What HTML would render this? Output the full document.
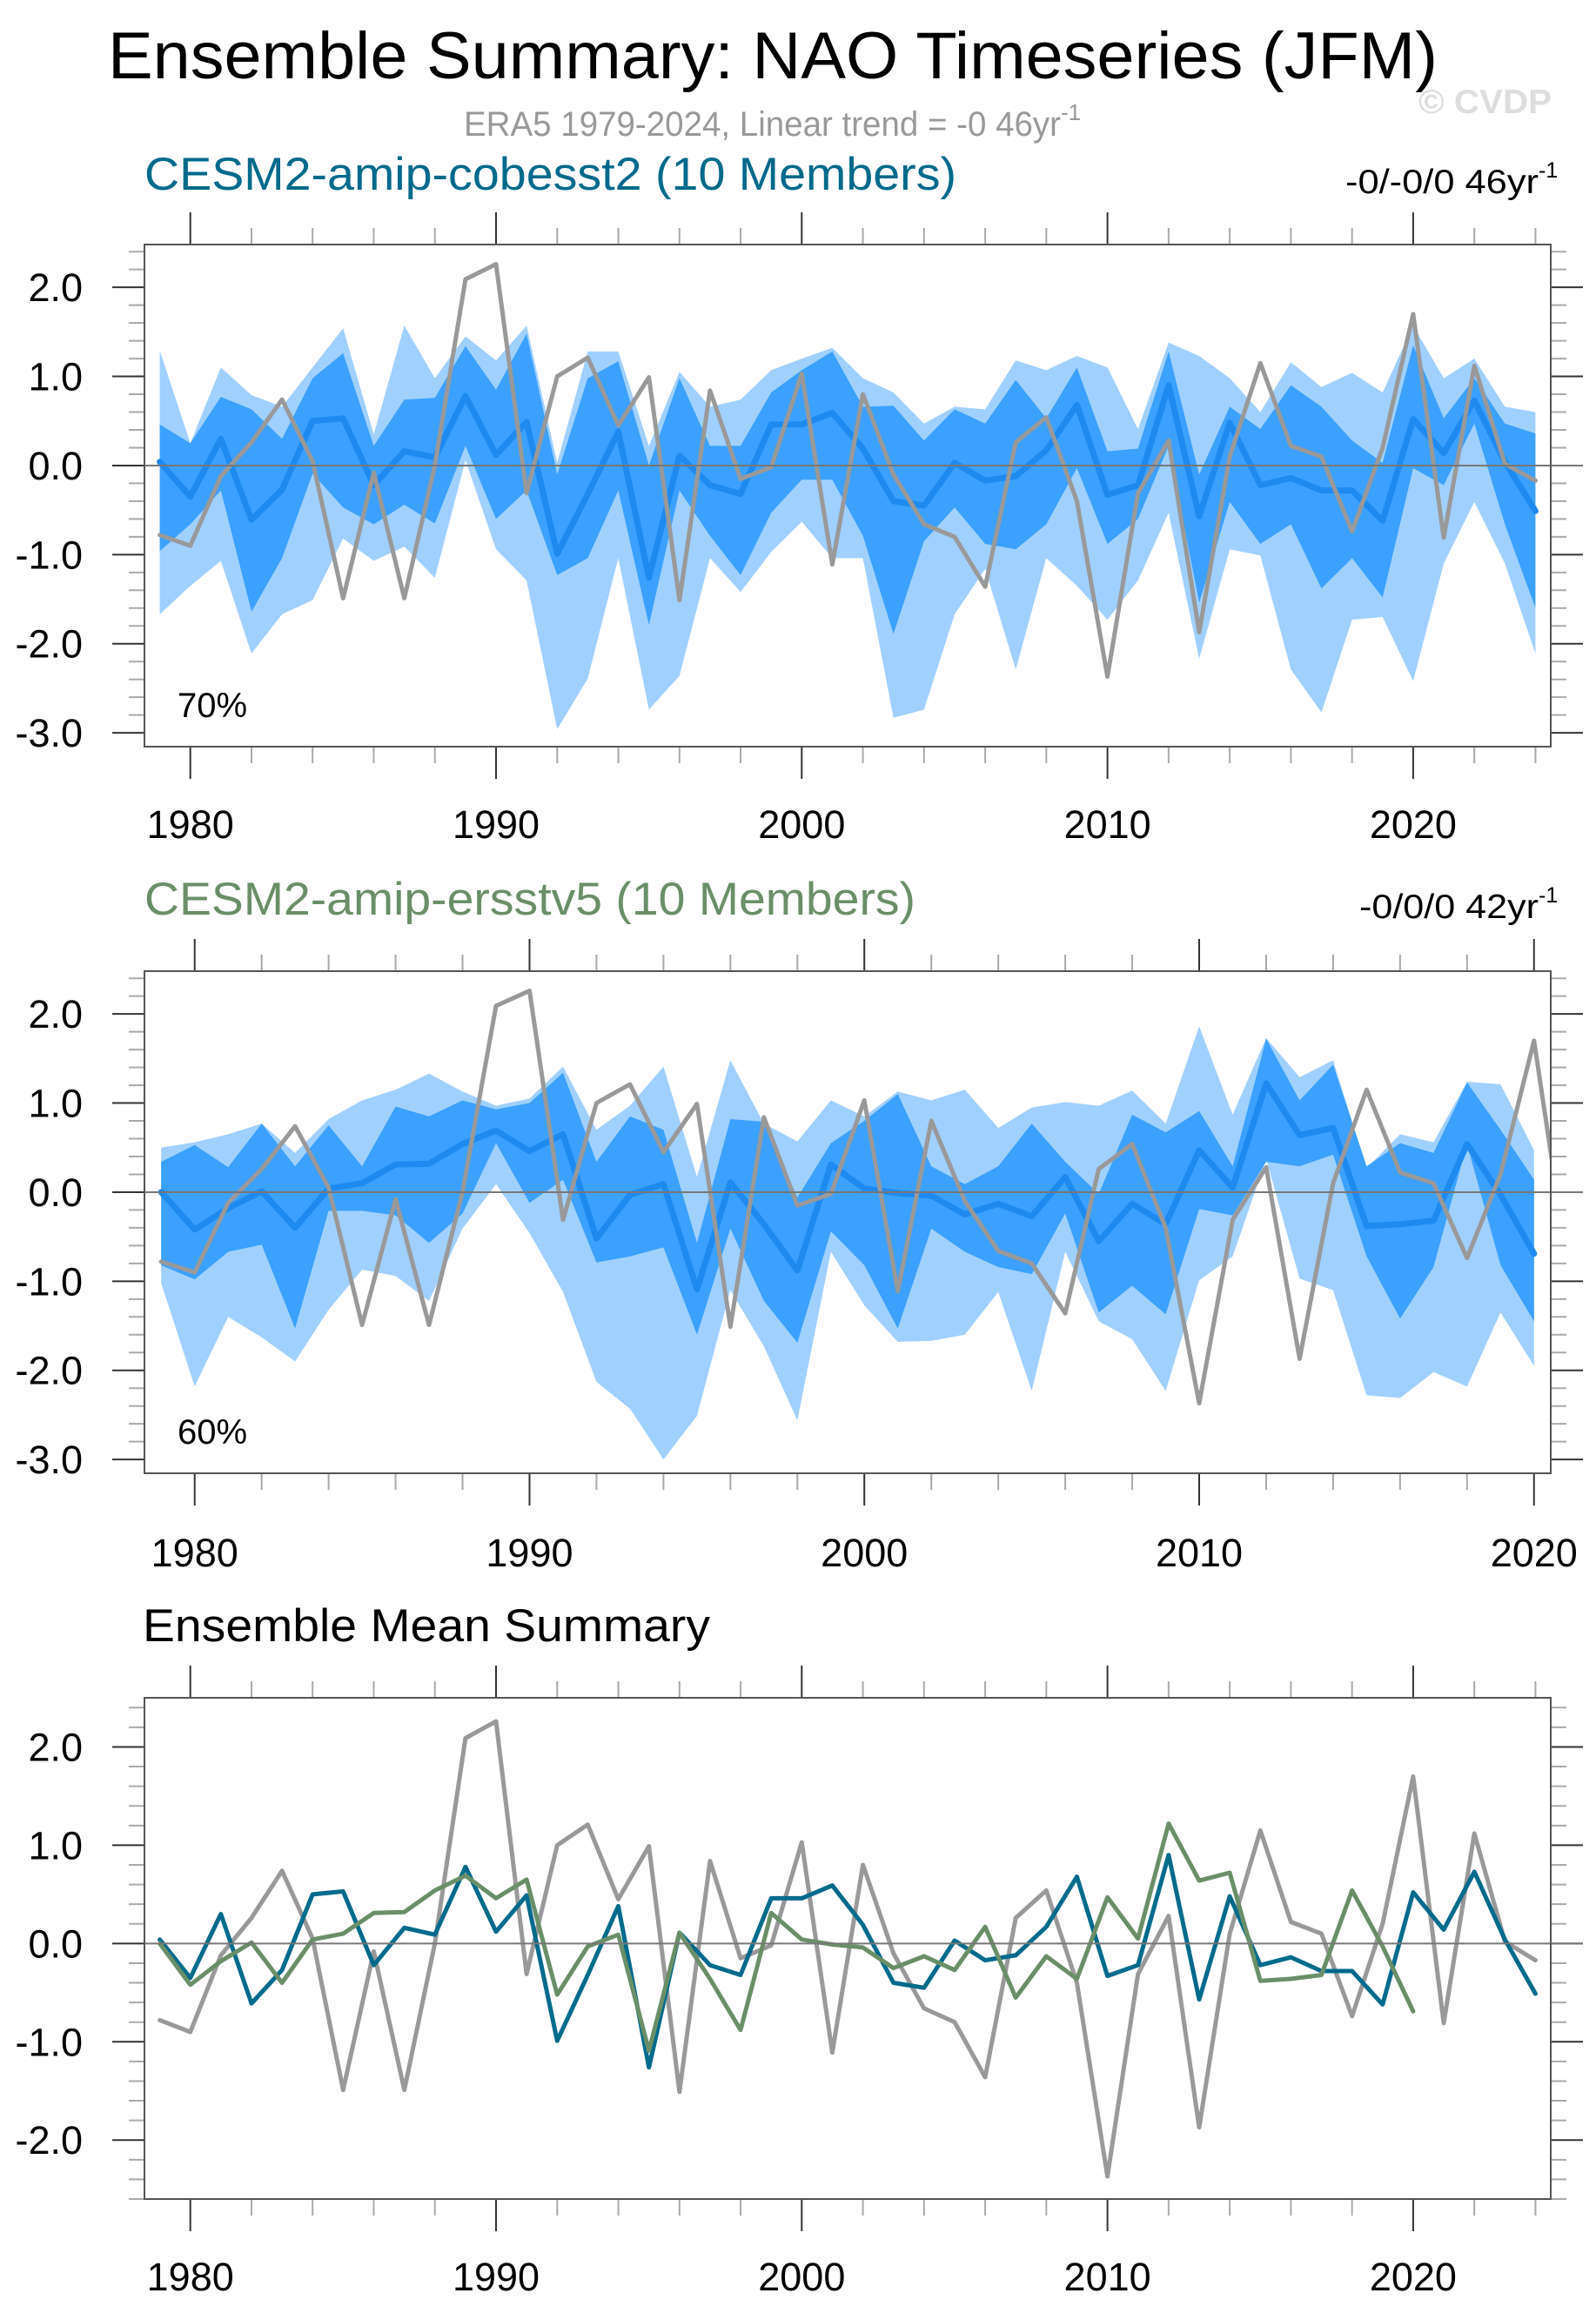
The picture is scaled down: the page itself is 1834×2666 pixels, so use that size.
<!DOCTYPE html>
<html><head><meta charset="utf-8"><title>NAO Timeseries</title>
<style>html,body{margin:0;padding:0;background:#fff}svg{display:block}text{font-family:"Liberation Sans",Arial,sans-serif}</style>
</head><body>
<svg id="chart" width="1834" height="2666" viewBox="0 0 1834 2666" xmlns="http://www.w3.org/2000/svg">
<text x="888" y="90" font-size="76" text-anchor="middle" textLength="1528" lengthAdjust="spacingAndGlyphs" fill="#000">Ensemble Summary: NAO Timeseries (JFM)</text>
<text x="1630" y="130" font-size="39" font-weight="bold" fill="#dddddd" textLength="153" lengthAdjust="spacingAndGlyphs">© CVDP</text>
<text x="533" y="156" font-size="40" fill="#999999"><tspan textLength="686" lengthAdjust="spacingAndGlyphs">ERA5 1979-2024, Linear trend = -0 46yr</tspan><tspan dy="-18" font-size="26">-1</tspan></text>
<text x="166" y="218" font-size="53" fill="#00698a" textLength="933" lengthAdjust="spacingAndGlyphs">CESM2-amip-cobesst2 (10 Members)</text>
<text x="1546" y="222" font-size="39" fill="#000"><tspan textLength="222" lengthAdjust="spacingAndGlyphs">-0/-0/0 46yr</tspan><tspan dy="-18" font-size="25">-1</tspan></text>
<text x="166" y="1051" font-size="53" fill="#6a8f68" textLength="886" lengthAdjust="spacingAndGlyphs">CESM2-amip-ersstv5 (10 Members)</text>
<text x="1562" y="1055" font-size="39" fill="#000"><tspan textLength="206" lengthAdjust="spacingAndGlyphs">-0/0/0 42yr</tspan><tspan dy="-18" font-size="25">-1</tspan></text>
<text x="164" y="1886" font-size="53" fill="#000" textLength="652" lengthAdjust="spacingAndGlyphs">Ensemble Mean Summary</text>
<g id="plots"></g>
</svg>
<script>
const yearsA = [1979,1980,1981,1982,1983,1984,1985,1986,1987,1988,1989,1990,1991,1992,1993,1994,1995,1996,1997,1998,1999,2000,2001,2002,2003,2004,2005,2006,2007,2008,2009,2010,2011,2012,2013,2014,2015,2016,2017,2018,2019,2020,2021,2022,2023,2024];
const yearsB = yearsA.slice(0,42);
const era5 = [-0.78,-0.90,-0.12,0.26,0.74,0.05,-1.49,-0.08,-1.49,0.0,2.09,2.26,-0.31,1.0,1.21,0.45,0.99,-1.51,0.84,-0.15,-0.02,1.03,-1.11,0.80,-0.10,-0.66,-0.80,-1.36,0.26,0.54,-0.40,-2.37,-0.31,0.28,-1.87,0.10,1.15,0.22,0.10,-0.74,0.20,1.70,-0.81,1.12,0.02,-0.17];
const meanA = [0.04,-0.35,0.30,-0.61,-0.27,0.50,0.53,-0.22,0.16,0.09,0.78,0.12,0.49,-0.99,-0.32,0.38,-1.26,0.11,-0.22,-0.32,0.46,0.46,0.59,0.19,-0.40,-0.45,0.03,-0.17,-0.12,0.17,0.68,-0.33,-0.22,0.90,-0.57,0.48,-0.22,-0.14,-0.28,-0.28,-0.62,0.52,0.14,0.73,0.04,-0.51];
const darkHiA = [0.46,0.25,0.77,0.63,0.30,0.98,1.26,0.22,0.74,0.76,1.34,0.85,1.48,-0.10,0.98,1.17,0.0,0.98,0.22,0.22,0.82,1.07,1.28,0.66,0.67,0.28,0.63,0.47,0.96,0.53,1.10,0.16,0.19,1.28,-0.10,0.66,0.41,0.90,0.66,0.28,0.03,1.35,0.53,0.98,0.47,0.36];
const darkLoA = [-0.96,-0.66,-0.28,-1.64,-1.04,-0.09,-0.47,-0.66,-0.44,-0.65,0.22,-0.60,-0.28,-1.23,-1.04,-0.28,-1.79,-0.28,-0.79,-1.23,-0.53,-0.16,-0.16,-0.79,-1.89,-0.85,-0.47,-0.88,-0.94,-0.66,-0.03,-0.88,-0.60,0.22,-1.54,-0.41,-0.88,-0.66,-1.38,-1.04,-1.48,-0.03,-0.22,0.47,-0.66,-1.60];
const lightHiA = [1.29,0.25,1.10,0.79,0.66,1.10,1.54,0.35,1.57,0.98,1.45,1.18,1.57,0.03,1.28,1.28,0.22,1.05,0.66,0.74,1.07,1.20,1.32,0.98,0.82,0.47,0.66,0.63,1.18,1.07,1.23,1.10,0.41,1.38,1.23,0.98,0.60,1.16,0.88,1.04,0.82,1.57,0.98,1.20,0.66,0.60];
const lightLoA = [-1.67,-1.35,-1.07,-2.11,-1.67,-1.51,-0.82,-1.07,-0.91,-1.26,0.06,-0.94,-1.29,-2.96,-2.39,-1.04,-2.74,-2.36,-1.04,-1.42,-0.97,-0.63,-1.04,-1.04,-2.83,-2.74,-1.67,-1.16,-2.29,-1.04,-1.35,-1.73,-1.29,-0.53,-2.17,-0.94,-1.01,-2.29,-2.77,-1.73,-1.70,-2.42,-1.10,-0.41,-1.10,-2.11];
const meanB = [0.0,-0.42,-0.18,0.01,-0.40,0.04,0.10,0.31,0.32,0.54,0.69,0.46,0.65,-0.52,-0.03,0.09,-1.09,0.11,-0.36,-0.88,0.31,0.04,-0.01,-0.04,-0.25,-0.13,-0.27,0.17,-0.55,-0.13,-0.36,0.47,0.05,1.22,0.64,0.72,-0.38,-0.36,-0.32,0.54,-0.03,-0.69];
const lightHiB = [0.50,0.56,0.65,0.77,0.44,0.82,1.03,1.15,1.33,1.13,0.97,1.05,1.41,0.70,0.97,1.41,0.17,1.48,0.77,0.57,1.03,0.85,1.13,1.03,1.15,0.72,0.95,1.01,0.97,1.14,0.77,1.86,0.87,1.73,1.29,1.48,0.27,0.65,0.56,1.24,1.21,0.47];
const darkHiB = [0.34,0.53,0.28,0.77,0.29,0.75,0.29,0.96,0.85,1.03,0.93,1.00,1.34,0.34,0.85,0.70,-0.57,0.82,0.79,-0.06,0.55,0.80,1.10,0.29,0.09,0.29,0.77,0.34,-0.02,0.87,0.67,0.91,0.29,1.72,1.03,1.43,0.29,0.55,0.44,1.23,0.70,0.14];
const darkLoB = [-0.82,-0.98,-0.67,-0.59,-1.53,-0.21,-0.21,-0.26,-0.57,-0.24,0.55,-0.12,0.14,-0.79,-0.72,-0.62,-1.60,-0.41,-1.22,-1.69,-0.44,-0.82,-1.53,-0.41,-0.67,-0.84,-0.92,-0.24,-1.35,-1.05,-1.37,-0.19,-0.26,0.34,0.29,0.42,-0.72,-1.42,-0.84,0.54,-0.82,-1.45];
const lightLoB = [-1.02,-2.18,-1.40,-1.63,-1.90,-1.32,-0.87,-0.94,-1.22,-0.41,0.09,-0.46,-1.12,-2.13,-2.43,-3.00,-2.51,-1.10,-1.73,-2.56,-0.67,-1.27,-1.68,-1.67,-1.60,-1.12,-2.23,-0.67,-1.45,-1.65,-2.23,-0.99,-0.72,0.37,-0.97,-1.10,-2.28,-2.31,-2.02,-2.18,-1.35,-1.95];
const yTicksAB = [2.0,1.0,0.0,-1.0,-2.0,-3.0];
const yTickLabelsAB = ["2.0","1.0","0.0","-1.0","-2.0","-3.0"];
const yTicksC = [2.0,1.0,0.0,-1.0,-2.0];
const yTickLabelsC = ["2.0","1.0","0.0","-1.0","-2.0"];
const xTickYears = [1980,1990,2000,2010,2020];

const NS='http://www.w3.org/2000/svg';
const root=document.getElementById('plots');
function mk(tag,attrs,parent){const e=document.createElementNS(NS,tag);for(const k in attrs)e.setAttribute(k,attrs[k]);(parent||root).appendChild(e);return e;}

function panel(id,top,bottom,xmin,xmax,ymin,ymax,yT,yL,labBase){
  const L=166,R=1782;
  const g=mk('g',{});
  
  
  const X=v=>L+(v-xmin)/(xmax-xmin)*(R-L);
  const Y=v=>bottom-(v-ymin)/(ymax-ymin)*(bottom-top);
  const cp=mk('clipPath',{id:id+'-clip'},g);
  mk('rect',{x:L,y:top,width:R-L,height:bottom-top},cp);
  const plot=mk('g',{'clip-path':'url(#'+id+'-clip)'},g);
  
  
  // x ticks
  for(let yr=1980;yr<=xmax;yr+=2){
    const major=(yr%10===0), x=X(yr);
    const t1=mk('line',{x1:x,x2:x,y1:top-(major?37:19),y2:top,stroke:major?'#333':'#aaa','stroke-width':2},g);
    
    
    const t2=mk('line',{x1:x,x2:x,y1:bottom,y2:bottom+(major?37:19),stroke:major?'#333':'#aaa','stroke-width':2},g);
    
    
  }
  xTickYears.forEach(yr=>{
    const t=mk('text',{x:X(yr),y:labBase,'font-size':45,'text-anchor':'middle',fill:'#000'},g);
    t.textContent=String(yr);
    
    
  });
  // y ticks
  for(let k=Math.ceil(ymin*5);k<=Math.floor(ymax*5);k++){
    const v=k/5, y=Y(v), major=(k%5===0);
    const a=mk('line',{x1:L-(major?37:18),x2:L,y1:y,y2:y,stroke:major?'#333':'#aaa','stroke-width':2},g);
    
    
    const b=mk('line',{x1:R,x2:R+(major?37:18),y1:y,y2:y,stroke:major?'#333':'#aaa','stroke-width':2},g);
    
    
  }
  yT.forEach((v,i)=>{
    const t=mk('text',{x:95,y:Y(v)+16,'font-size':45,'text-anchor':'end',fill:'#000'},g);
    t.textContent=yL[i];
    
    
  });
  return {g,plot,X,Y,L,R,top,bottom};
}
function area(p,years,hi,lo,color,name){
  let d='';
  years.forEach((yr,i)=>{d+=(i?'L':'M')+p.X(yr).toFixed(1)+','+p.Y(hi[i]).toFixed(1);});
  for(let i=years.length-1;i>=0;i--)d+='L'+p.X(years[i]).toFixed(1)+','+p.Y(lo[i]).toFixed(1);
  const e=mk('path',{d:d+'Z',fill:color,stroke:'none'},p.plot);
  
  
}
function line(p,years,vals,color,w,name){
  const pts=years.map((yr,i)=>p.X(yr).toFixed(1)+','+p.Y(vals[i]).toFixed(1)).join(' ');
  const e=mk('polyline',{points:pts,fill:'none',stroke:color,'stroke-width':w,'stroke-linejoin':'round','stroke-linecap':'round'},p.plot);
  
  
}
function zero(p){
  const e=mk('line',{x1:p.L,x2:p.R+37,y1:p.Y(0),y2:p.Y(0),stroke:'#777','stroke-width':2},p.g);
  
  
}
function frame(p){
  const e=mk('rect',{x:p.L,y:p.top,width:p.R-p.L,height:p.bottom-p.top,fill:'none',stroke:'#555','stroke-width':2},p.g);
  
  
}
function pct(p,txt,yb,name){
  const t=mk('text',{x:204,y:yb,'font-size':40,fill:'#000'},p.g);
  t.textContent=txt;
  
  
}
// panel 1
const p1=panel('panel1-cobesst2',281,858,1978.5,2024.5,-3.155,2.48,yTicksAB,yTickLabelsAB,963);
area(p1,yearsA,lightHiA,lightLoA,'#a0d0ff','panel1-outer-range');
area(p1,yearsA,darkHiA,darkLoA,'#3ba0ff','panel1-inner-range');
zero(p1);
line(p1,yearsA,meanA,'#1e8af0',7,'panel1-ensemble-mean');
line(p1,yearsA,era5,'#999999',5,'panel1-era5-line');
frame(p1);
pct(p1,'70%',824,'panel1-percent-label');
// panel 2
const p2=panel('panel2-ersstv5',1116,1693,1978.5,2020.5,-3.155,2.48,yTicksAB,yTickLabelsAB,1800);
area(p2,yearsB,lightHiB,lightLoB,'#a0d0ff','panel2-outer-range');
area(p2,yearsB,darkHiB,darkLoB,'#3ba0ff','panel2-inner-range');
zero(p2);
line(p2,yearsB,meanB,'#1e8af0',7,'panel2-ensemble-mean');
line(p2,yearsA,era5,'#999999',5,'panel2-era5-line');
frame(p2);
pct(p2,'60%',1659,'panel2-percent-label');
// panel 3
const p3=panel('panel3-mean-summary',1951,2527,1978.5,2024.5,-2.6,2.5,yTicksC,yTickLabelsC,2632);
zero(p3);
line(p3,yearsA,era5,'#999999',5,'panel3-era5-line');
line(p3,yearsA,meanA,'#006a8a',5,'panel3-cobesst2-mean');
line(p3,yearsB,meanB,'#6a8f68',5,'panel3-ersstv5-mean');
frame(p3);
</script>
</body></html>
